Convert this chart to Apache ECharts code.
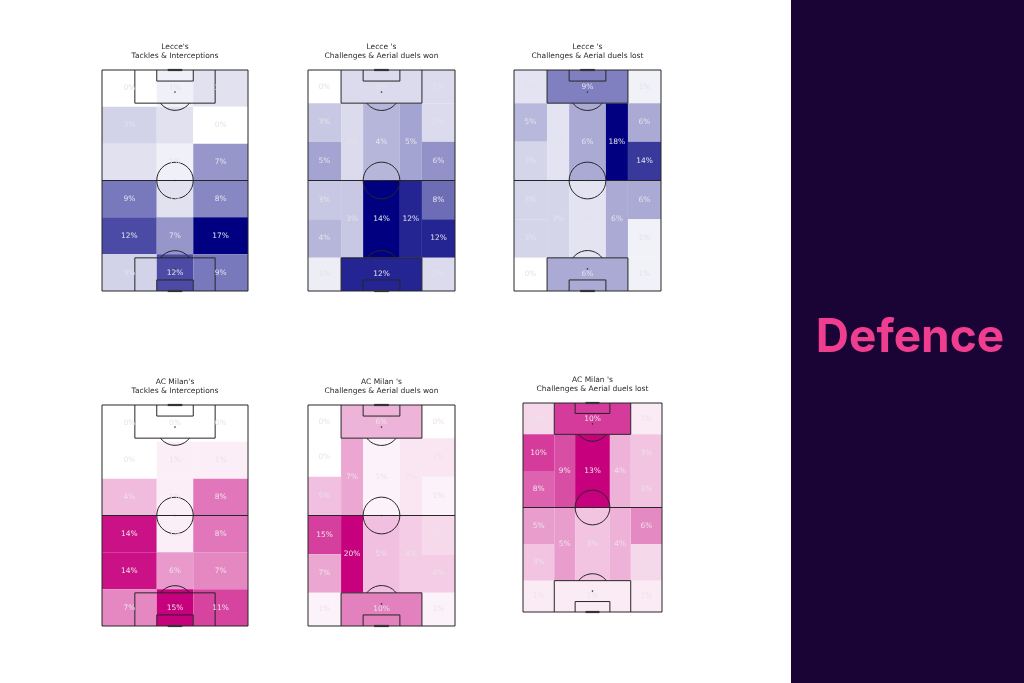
<!DOCTYPE html>
<html><head><meta charset="utf-8">
<script src="https://cdn.jsdelivr.net/npm/echarts@6/dist/echarts.min.js"></script>
<style>html,body{margin:0;padding:0;background:#fff}#c{width:1024px;height:683px}</style>
</head><body><div id="c"></div><script>
// ---------- DATA (percent of actions per zone) ----------
// Grid-binned pitches: 6 rows (top -> bottom) x 3 columns (left -> right)
const lecceTackles = [0,1,2, 3,2,0, 2,1,7, 9,2,8, 12,7,17, 3,12,9];
const milanTackles = [0,0,0, 0,1,1, 4,1,8, 14,1,8, 14,6,7, 7,15,11];

// Positional pitches
const lecceWonLeft = [0,3,5,3,4,1];
const lecceWonRight = [2,2,6,8,12,2];
const lecceWonHalfLeft = [2,3];
const lecceWonCentre = [4,14];
const lecceWonHalfRight = [5,12];
const lecceWonBoxes = [2,12];

const lecceLostLeft = [2,5,3,3,3,0];
const lecceLostRight = [1,6,14,6,1,1];
const lecceLostHalfLeft = [2,3];
const lecceLostCentre = [6,2];
const lecceLostHalfRight = [18,6];
const lecceLostBoxes = [9,6];

const milanWonLeft = [0,0,5,15,7,1];
const milanWonRight = [0,2,1,3,4,1];
const milanWonHalfLeft = [7,20];
const milanWonCentre = [1,5];
const milanWonHalfRight = [2,4];
const milanWonBoxes = [6,10];

const milanLostLeft = [2,10,8,5,3,1];
const milanLostRight = [1,3,3,6,2,1];
const milanLostHalfLeft = [9,5];
const milanLostCentre = [13,3];
const milanLostHalfRight = [4,4];
const milanLostBoxes = [10,1];

const titles = [
  ["Lecce's", "Tackles & Interceptions"],
  ["Lecce 's", "Challenges & Aerial duels won"],
  ["Lecce 's", "Challenges & Aerial duels lost"],
  ["AC Milan's", "Tackles & Interceptions"],
  ["AC Milan 's", "Challenges & Aerial duels won"],
  ["AC Milan 's", "Challenges & Aerial duels lost"]
];
const sideTitle = 'Defence';

// ---------- Zone geometry (pitch units: width 80, length 120) ----------
const gridCols = [0, 30, 50, 80];
const gridRows = [0, 20, 40, 60, 80, 100, 120];
const wideRows = [0, 18, 39, 60, 81, 102, 120];
const innerRows = [18, 60, 102];

function gridZones(vals) {
  const out = [];
  for (let r = 0; r < 6; r++) for (let c = 0; c < 3; c++)
    out.push([gridCols[c], gridCols[c+1], gridRows[r], gridRows[r+1], vals[r*3+c]]);
  return out;
}
function positionalZones(left, right, hl, ce, hr, boxes) {
  const out = [];
  left.forEach((v,i)=>out.push([0,18,wideRows[i],wideRows[i+1],v]));
  right.forEach((v,i)=>out.push([62,80,wideRows[i],wideRows[i+1],v]));
  hl.forEach((v,i)=>out.push([18,30,innerRows[i],innerRows[i+1],v]));
  ce.forEach((v,i)=>out.push([30,50,innerRows[i],innerRows[i+1],v]));
  hr.forEach((v,i)=>out.push([50,62,innerRows[i],innerRows[i+1],v]));
  out.push([18,62,0,18,boxes[0]]);
  out.push([18,62,102,120,boxes[1]]);
  return out;
}

// Pitch markings (pitch units)
const pitchPolylines = [
  [[0,0],[80,0],[80,120],[0,120],[0,0]],
  [[0,60],[80,60]],
  [[18,0],[18,18],[62,18],[62,0]],
  [[30,0],[30,6],[50,6],[50,0]],
  [[18,120],[18,102],[62,102],[62,120]],
  [[30,120],[30,114],[50,114],[50,120]]
];
const goals = [[[36,0],[44,0]], [[36,120],[44,120]]];
const spots = [[40,12],[40,108],[40,60]];

const lecceColors = ['#ffffff', '#000080'];
const milanColors = ['#ffffff', '#c7007d'];

const pitches = [
  {cells: gridZones(lecceTackles), colors: lecceColors, text:'#e2e2ec', box:{left:102,top:70,width:146,height:221}},
  {cells: positionalZones(lecceWonLeft,lecceWonRight,lecceWonHalfLeft,lecceWonCentre,lecceWonHalfRight,lecceWonBoxes), colors: lecceColors, text:'#e2e2ec', box:{left:308,top:70,width:147,height:221}},
  {cells: positionalZones(lecceLostLeft,lecceLostRight,lecceLostHalfLeft,lecceLostCentre,lecceLostHalfRight,lecceLostBoxes), colors: lecceColors, text:'#e2e2ec', box:{left:514,top:70,width:147,height:221}},
  {cells: gridZones(milanTackles), colors: milanColors, text:'#ede1e8', box:{left:102,top:405,width:146,height:221}},
  {cells: positionalZones(milanWonLeft,milanWonRight,milanWonHalfLeft,milanWonCentre,milanWonHalfRight,milanWonBoxes), colors: milanColors, text:'#ede1e8', box:{left:308,top:405,width:147,height:221}},
  {cells: positionalZones(milanLostLeft,milanLostRight,milanLostHalfLeft,milanLostCentre,milanLostHalfRight,milanLostBoxes), colors: milanColors, text:'#ede1e8', box:{left:523,top:403,width:139,height:209}}
];

const LINE = '#262626';

function renderCell(params, api) {
  const a = api.coord([api.value(0), api.value(2)]);
  const b = api.coord([api.value(1), api.value(3)]);
  return {
    type: 'rect',
    shape: {x: Math.min(a[0],b[0]), y: Math.min(a[1],b[1]), width: Math.abs(b[0]-a[0]), height: Math.abs(b[1]-a[1])},
    style: {fill: api.visual('color'), stroke: null}
  };
}
function makeLabel(color) {
  return function(params, api) {
    const p = api.coord([(api.value(0)+api.value(1))/2, (api.value(2)+api.value(3))/2]);
    return {
      type: 'text',
      style: {text: api.value(4) + '%', x: p[0], y: p[1], align:'center', verticalAlign:'middle',
              textAlign:'center', textVerticalAlign:'middle', fill: color, font: '7.5px "DejaVu Sans"'}
    };
  };
}
function renderPitch(params, api) {
  const ch = [];
  pitchPolylines.forEach(pl => {
    ch.push({type:'polyline', shape:{points: pl.map(p => api.coord(p))}, style:{stroke: LINE, lineWidth: 1, fill: null}});
  });
  goals.forEach(g => {
    const a = api.coord(g[0]), b = api.coord(g[1]);
    ch.push({type:'line', shape:{x1:a[0],y1:a[1],x2:b[0],y2:b[1]}, style:{stroke:'#333', lineWidth:2.2}});
  });
  const r = api.size([10, 0])[0];
  const cc = api.coord([40,60]);
  ch.push({type:'circle', shape:{cx:cc[0], cy:cc[1], r:r}, style:{stroke: LINE, lineWidth:1, fill:null}});
  const half = Math.acos(0.6);
  const t = api.coord([40,12]);
  ch.push({type:'arc', shape:{cx:t[0], cy:t[1], r:r, startAngle:Math.PI/2-half, endAngle:Math.PI/2+half, clockwise:true}, style:{stroke:LINE, lineWidth:1, fill:null}});
  const bt = api.coord([40,108]);
  ch.push({type:'arc', shape:{cx:bt[0], cy:bt[1], r:r, startAngle:-Math.PI/2-half, endAngle:-Math.PI/2+half, clockwise:true}, style:{stroke:LINE, lineWidth:1, fill:null}});
  spots.forEach(s => {
    const p = api.coord(s);
    ch.push({type:'circle', shape:{cx:p[0], cy:p[1], r:0.8}, style:{fill:'#333'}});
  });
  return {type:'group', children: ch};
}

const option = {
  animation: false,
  backgroundColor: '#ffffff',
  grid: [], xAxis: [], yAxis: [], series: [], visualMap: [],
  graphic: []
};

pitches.forEach((p, i) => {
  option.grid.push(Object.assign({containLabel:false}, p.box));
  option.xAxis.push({type:'value', gridIndex:i, min:0, max:80, show:false});
  option.yAxis.push({type:'value', gridIndex:i, min:0, max:120, inverse:true, show:false});
  const maxV = Math.max.apply(null, p.cells.map(c => c[4]));
  option.series.push({type:'custom', xAxisIndex:i, yAxisIndex:i, data:p.cells, renderItem: renderCell, z:1, silent:true, encode:{x:[0,1], y:[2,3]}});
  option.series.push({type:'custom', xAxisIndex:i, yAxisIndex:i, data:[[40,60]], renderItem: renderPitch, z:2, silent:true, encode:{x:0, y:1}});
  option.series.push({type:'custom', xAxisIndex:i, yAxisIndex:i, data:p.cells, renderItem: makeLabel(p.text), z:3, silent:true, encode:{x:[0,1], y:[2,3]}});
  option.visualMap.push({type:'continuous', show:false, seriesIndex: i*3, dimension:4, min:0, max:maxV, inRange:{color: p.colors}});
  const cx = p.box.left + p.box.width/2;
  option.graphic.push({type:'text', silent:true, style:{text: titles[i][0], x:cx, y:p.box.top-23, align:'center', verticalAlign:'middle', textAlign:'center', textVerticalAlign:'middle', font:'7.5px "DejaVu Sans"', fill:'#2a2a2a'}});
  option.graphic.push({type:'text', silent:true, style:{text: titles[i][1], x:cx, y:p.box.top-14, align:'center', verticalAlign:'middle', textAlign:'center', textVerticalAlign:'middle', font:'7.5px "DejaVu Sans"', fill:'#2a2a2a'}});
});

option.graphic.push({type:'rect', silent:true, z:-1, shape:{x:791, y:0, width:233, height:683}, style:{fill:'#1a0436'}});
option.graphic.push({type:'text', silent:true, style:{text: sideTitle, x:910, y:338, align:'center', verticalAlign:'middle', textAlign:'center', textVerticalAlign:'middle', font:'bold 46px Inter', fill:'#ef3d8f'}});

const chart = echarts.init(document.getElementById('c'), null, {renderer:'canvas'});
chart.setOption(option);
</script></body></html>
